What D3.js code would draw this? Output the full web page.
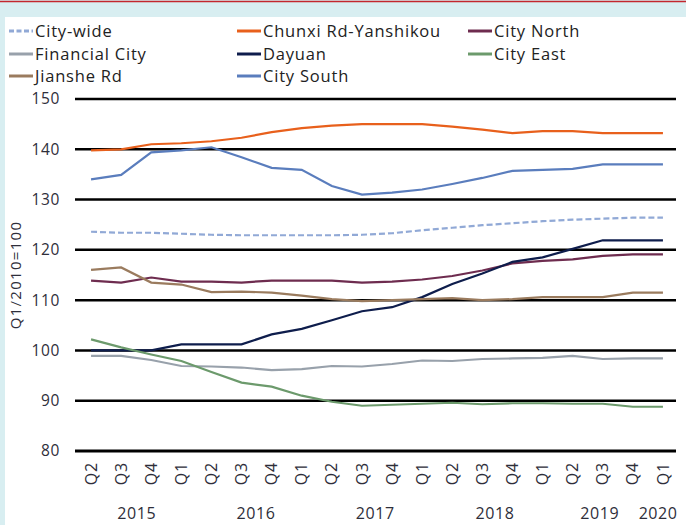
<!DOCTYPE html>
<html>
<head>
<meta charset="utf-8">
<script src="https://cdn.jsdelivr.net/npm/d3@7"></script>
<style>
  body { margin: 0; background: #d8eef1; }
  svg { display: block; font-family: "Open Sans", sans-serif; }
</style>
</head>
<body>
<div id="vis"></div>
<script>
// quarters, Q2 2015 .. Q1 2020
var quarters = ['Q2','Q3','Q4','Q1','Q2','Q3','Q4','Q1','Q2','Q3','Q4','Q1','Q2','Q3','Q4','Q1','Q2','Q3','Q4','Q1'];
var years = ['2015','2016','2017','2018','2019','2020'];
var yTicks = [80, 90, 100, 110, 120, 130, 140, 150];

var cityWide   = [123.6,123.4,123.4,123.2,123.0,122.9,122.9,122.9,122.9,123.0,123.3,123.9,124.4,124.9,125.3,125.7,126.0,126.2,126.4,126.4];
var chunxi     = [139.8,140.0,141.0,141.2,141.6,142.3,143.4,144.2,144.7,145.0,145.0,145.0,144.5,143.9,143.2,143.6,143.6,143.2,143.2,143.2];
var cityNorth  = [113.9,113.5,114.5,113.7,113.7,113.5,113.9,113.9,113.9,113.5,113.7,114.1,114.8,115.9,117.3,117.8,118.1,118.8,119.1,119.1];
var financial  = [98.9,98.9,98.1,96.9,96.8,96.6,96.1,96.3,96.9,96.8,97.3,98.0,97.9,98.3,98.4,98.5,98.9,98.3,98.4,98.4];
var dayuan     = [100.0,100.0,100.0,101.2,101.2,101.2,103.2,104.3,106.0,107.8,108.6,110.6,113.2,115.3,117.6,118.5,120.2,121.9,121.9,121.9];
var cityEast   = [102.2,100.6,99.2,97.9,95.7,93.6,92.8,91.0,89.8,89.0,89.2,89.4,89.6,89.3,89.5,89.5,89.4,89.4,88.8,88.8];
var jianshe    = [116.0,116.5,113.5,113.1,111.6,111.7,111.5,110.9,110.2,109.8,110.0,110.2,110.4,110.0,110.2,110.6,110.6,110.6,111.5,111.5];
var citySouth  = [134.0,134.9,139.4,139.8,140.4,138.4,136.3,135.9,132.7,131.0,131.4,132.0,133.1,134.3,135.7,135.9,136.1,137.0,137.0,137.0];

var seriesNames = ['City-wide','Chunxi Rd-Yanshikou','City North','Financial City','Dayuan','City East','Jianshe Rd','City South'];
var seriesValues = [cityWide, chunxi, cityNorth, financial, dayuan, cityEast, jianshe, citySouth];
var colors = ['#91a9d6','#e8601c','#6e2c4f','#98a1ab','#0e1d4c','#6c9a6c','#9a7b5e','#5a7dbd'];

var W = 686, H = 525;

var svg = d3.select('#vis').append('svg')
  .attr('width', W)
  .attr('height', H);

// frame: light blue background, red rule, white panel
svg.append('rect').attr('width', W).attr('height', H).attr('fill', '#d8eef1');
svg.append('line').attr('x1', 0).attr('x2', W).attr('y1', 1.5).attr('y2', 1.5)
  .attr('stroke', '#c3272e').attr('stroke-width', 1.5);
svg.append('rect').attr('x', 5).attr('y', 17).attr('width', W - 5).attr('height', H - 17).attr('fill', '#fff');

var idx = d3.range(quarters.length);
var x = d3.scalePoint().domain(idx).range([76, 678]).padding(0.5);
var y = d3.scaleLinear().domain([80, 150]).range([451, 99]);

// gridlines
svg.append('g').selectAll('line')
  .data(yTicks)
  .join('line')
  .attr('x1', 75).attr('x2', 676)
  .attr('y1', d => y(d)).attr('y2', d => y(d))
  .attr('stroke', '#000')
  .attr('stroke-width', d => d === 80 ? 3 : 2.5);

// y labels
svg.append('g').selectAll('text')
  .data(yTicks)
  .join('text')
  .attr('x', 60)
  .attr('y', d => y(d))
  .attr('dy', '0.35em')
  .attr('text-anchor', 'end')
  .attr('font-size', 15.5)
  .attr('letter-spacing', 0.6)
  .attr('fill', '#2e2e3a')
  .text(d => d);

svg.append('text')
  .attr('transform', 'translate(16,275) rotate(-90)')
  .attr('text-anchor', 'middle')
  .attr('dy', '0.35em')
  .attr('font-size', 15)
  .attr('letter-spacing', 1.3)
  .attr('fill', '#2e2e3a')
  .text('Q1/2010=100');

// quarter labels
svg.append('g').selectAll('text')
  .data(idx)
  .join('text')
  .attr('transform', d => 'translate(' + x(d) + ',462) rotate(-90)')
  .attr('text-anchor', 'end')
  .attr('dy', '0.35em')
  .attr('font-size', 16)
  .attr('letter-spacing', 0.8)
  .attr('fill', '#2e2e3a')
  .text(d => quarters[d]);

// year labels (placed like the original's category groups)
var yearAt = [1.52, 5.48, 9.44, 13.42, 16.9, 18.84];
svg.append('g').selectAll('text')
  .data(years)
  .join('text')
  .attr('x', (d, i) => x(0) + yearAt[i] * x.step())
  .attr('y', 519)
  .attr('text-anchor', 'middle')
  .attr('font-size', 16)
  .attr('letter-spacing', 0.6)
  .attr('fill', '#2e2e3a')
  .text(d => d);

// lines
var line = d3.line()
  .x((d, i) => x(i))
  .y(d => y(d));

svg.append('g').selectAll('path')
  .data(seriesValues)
  .join('path')
  .attr('d', line)
  .attr('fill', 'none')
  .attr('stroke', (d, i) => colors[i])
  .attr('stroke-width', 2.2)
  .attr('stroke-dasharray', (d, i) => i === 0 ? '6,3' : null);

// legend, 3 columns
var legCols = [9, 237, 468];
var legRows = [31, 54, 76];
var leg = svg.append('g').selectAll('g')
  .data(seriesNames)
  .join('g')
  .attr('transform', (d, i) => 'translate(' + legCols[i % 3] + ',' + legRows[Math.floor(i / 3)] + ')');

leg.append('line')
  .attr('x1', 0).attr('x2', 24)
  .attr('stroke', (d, i) => colors[i])
  .attr('stroke-width', 3)
  .attr('stroke-dasharray', (d, i) => i === 0 ? '5,2.5' : null);

leg.append('text')
  .attr('x', 26)
  .attr('dy', '0.35em')
  .attr('font-size', 16.5)
  .attr('letter-spacing', 0.8)
  .attr('fill', '#222')
  .text(d => d);
</script>
</body>
</html>
